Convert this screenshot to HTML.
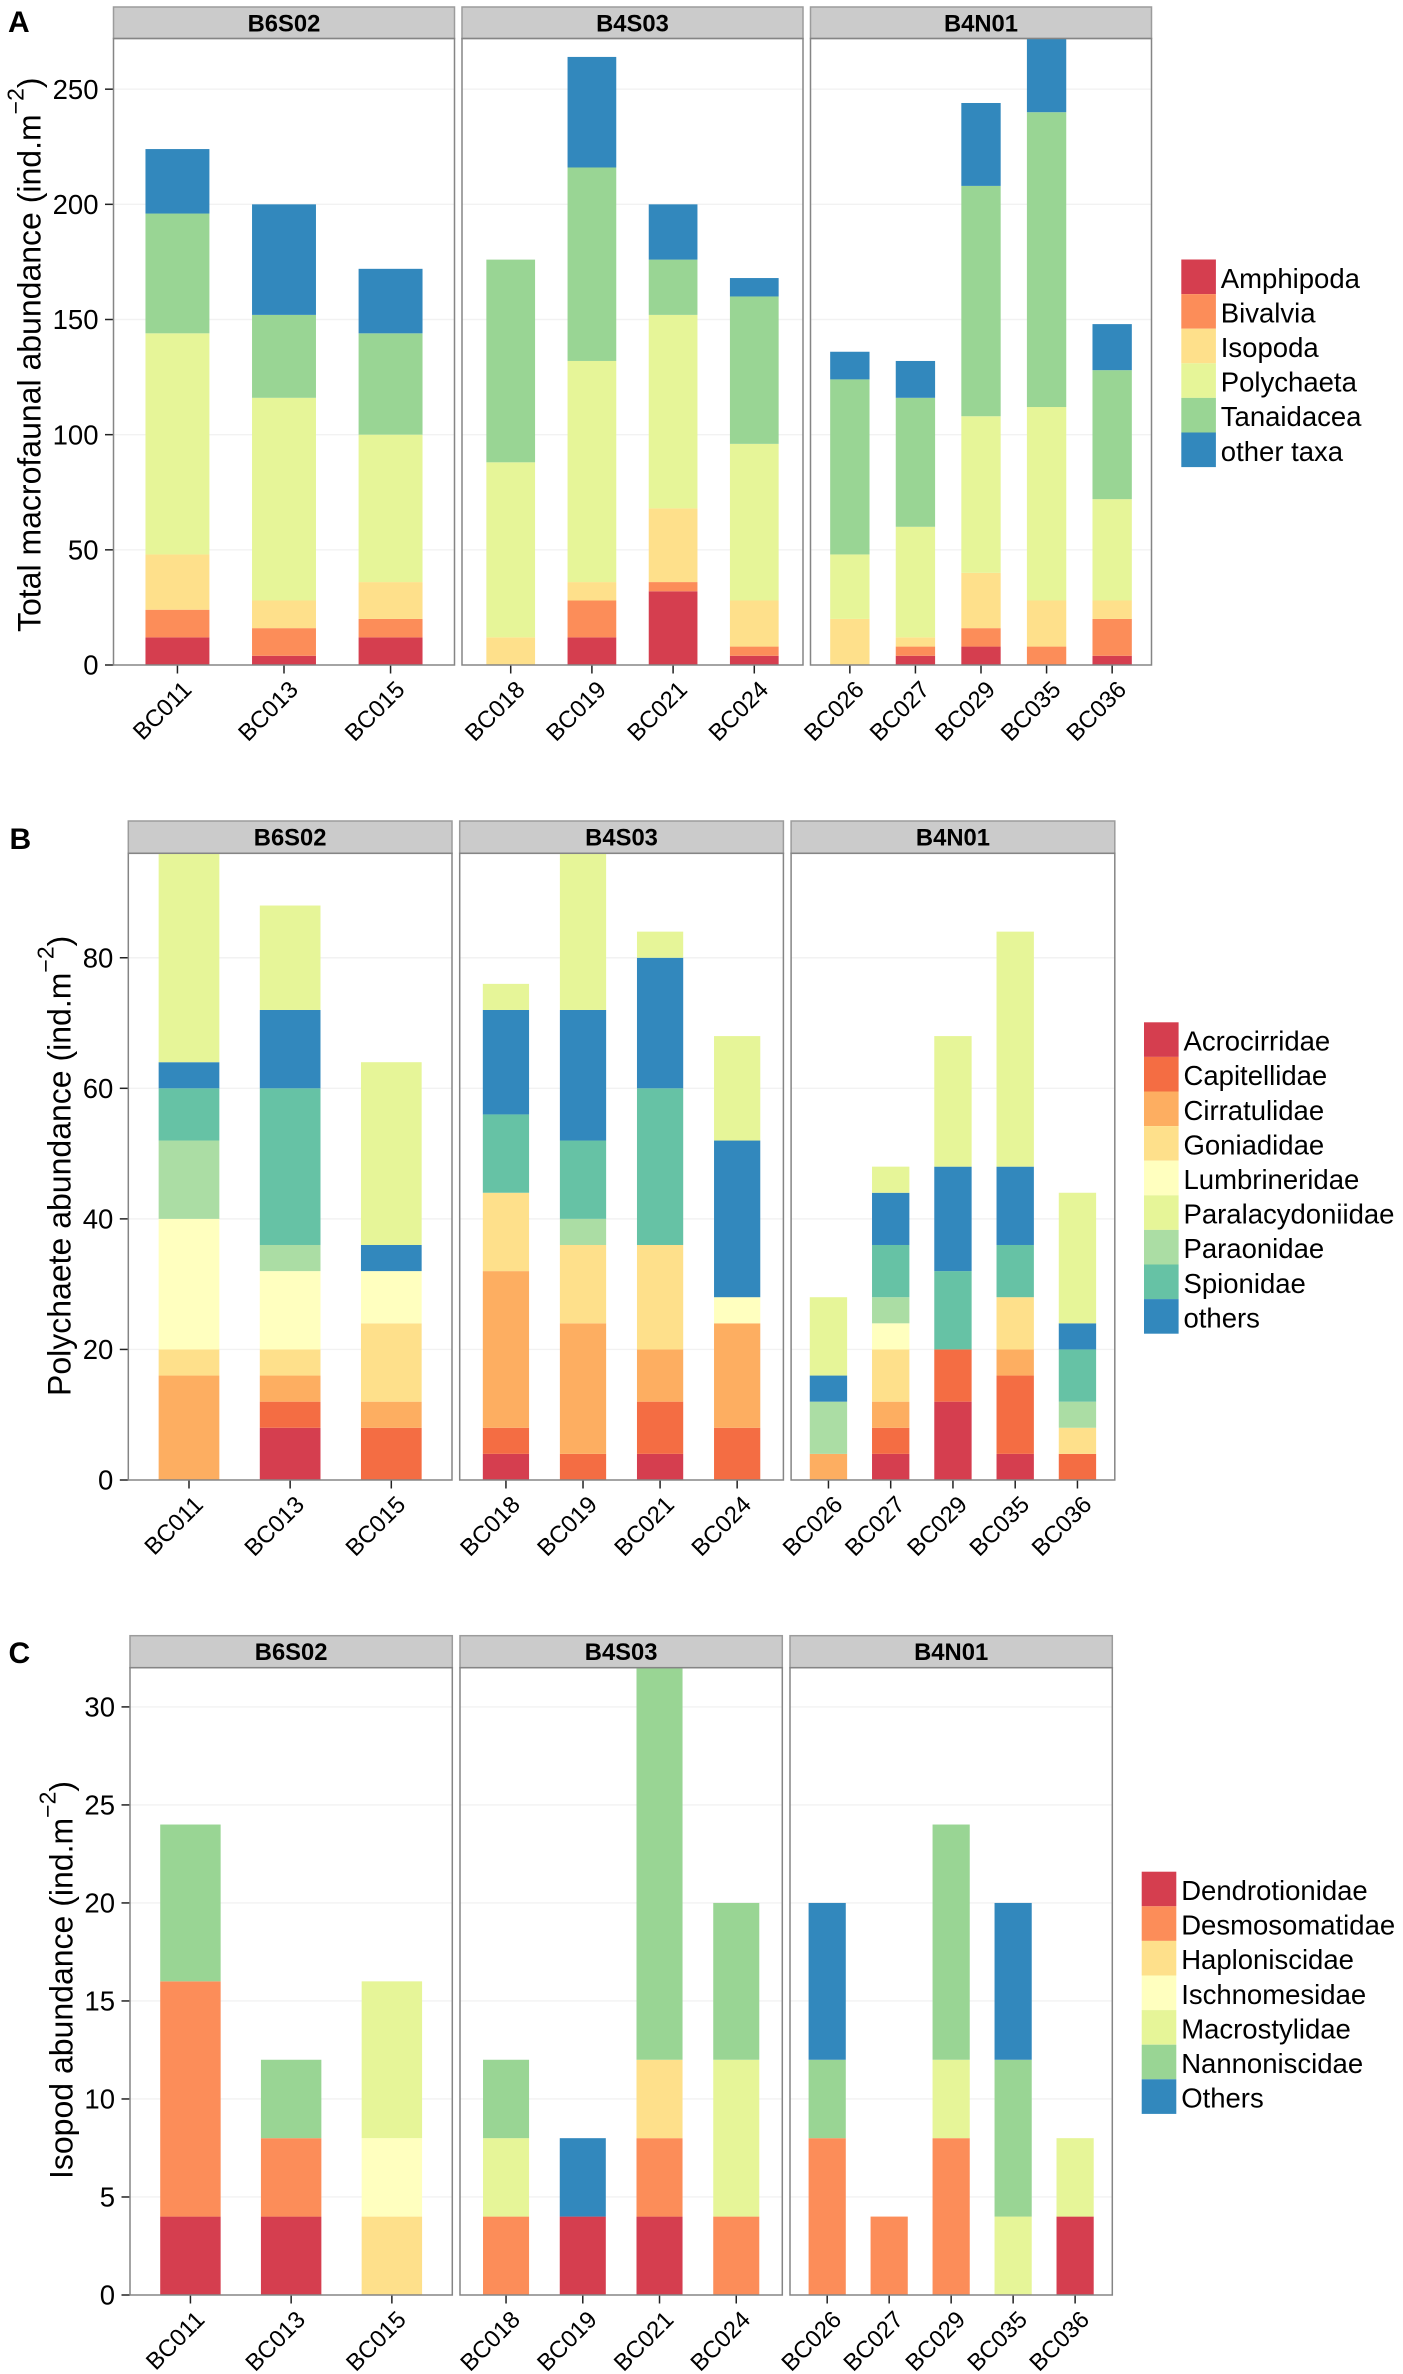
<!DOCTYPE html>
<html lang="en">
<head>
<meta charset="utf-8">
<title>Macrofaunal abundance stacked bar charts</title>
<style>
html,body{margin:0;padding:0;background:#fff;}
svg{display:block;font-family:"Liberation Sans",Arial,sans-serif;}
</style>
</head>
<body>
<svg id="figure" xmlns="http://www.w3.org/2000/svg" width="1403" height="2374" viewBox="0 0 1403 2374"></svg>
<script>
// ---- shared categories ----
const facetNames = ['B6S02', 'B4S03', 'B4N01'];
const facet1Stations = ['BC011', 'BC013', 'BC015'];
const facet2Stations = ['BC018', 'BC019', 'BC021', 'BC024'];
const facet3Stations = ['BC026', 'BC027', 'BC029', 'BC035', 'BC036'];

// ---- chart A: total macrofauna (12 stations, left to right) ----
const taxaA = ['Amphipoda', 'Bivalvia', 'Isopoda', 'Polychaeta', 'Tanaidacea', 'other taxa'];
const amphipoda  = [12, 4, 12, 0, 12, 32, 4, 0, 4, 8, 0, 4];
const bivalvia   = [12, 12, 8, 0, 16, 4, 4, 0, 4, 8, 8, 16];
const isopoda    = [24, 12, 16, 12, 8, 32, 20, 20, 4, 24, 20, 8];
const polychaeta = [96, 88, 64, 76, 96, 84, 68, 28, 48, 68, 84, 44];
const tanaidacea = [52, 36, 44, 88, 84, 24, 64, 76, 56, 100, 128, 56];
const otherTaxa  = [28, 48, 28, 0, 48, 24, 8, 12, 16, 36, 32, 20];
const ticksA = [0, 50, 100, 150, 200, 250];
const seriesA = [amphipoda, bivalvia, isopoda, polychaeta, tanaidacea, otherTaxa];
const stackA = [0, 1, 2, 3, 4, 5];

// ---- chart B: polychaete families ----
const taxaB = ['Acrocirridae', 'Capitellidae', 'Cirratulidae', 'Goniadidae', 'Lumbrineridae', 'Paralacydoniidae', 'Paraonidae', 'Spionidae', 'others'];
const acrocirridae     = [0, 8, 0, 4, 0, 4, 0, 0, 4, 12, 4, 0];
const capitellidae     = [0, 4, 8, 4, 4, 8, 8, 0, 4, 8, 12, 4];
const cirratulidae     = [16, 4, 4, 24, 20, 8, 16, 4, 4, 0, 4, 0];
const goniadidae       = [4, 4, 12, 12, 12, 16, 0, 0, 8, 0, 8, 4];
const lumbrineridae    = [20, 12, 8, 0, 0, 0, 4, 0, 4, 0, 0, 0];
const paralacydoniidae = [32, 16, 28, 4, 24, 4, 16, 12, 4, 20, 36, 20];
const paraonidae       = [12, 4, 0, 0, 4, 0, 0, 8, 4, 0, 0, 4];
const spionidae        = [8, 24, 0, 12, 12, 24, 0, 0, 8, 12, 8, 8];
const othersPoly       = [4, 12, 4, 16, 20, 20, 24, 4, 8, 16, 12, 4];
const ticksB = [0, 20, 40, 60, 80];
const seriesB = [acrocirridae, capitellidae, cirratulidae, goniadidae, lumbrineridae, paralacydoniidae, paraonidae, spionidae, othersPoly];
const stackB = [0, 1, 2, 3, 4, 6, 7, 8, 5];

// ---- chart C: isopod families ----
const taxaC = ['Dendrotionidae', 'Desmosomatidae', 'Haploniscidae', 'Ischnomesidae', 'Macrostylidae', 'Nannoniscidae', 'Others'];
const dendrotionidae = [4, 4, 0, 0, 4, 4, 0, 0, 0, 0, 0, 4];
const desmosomatidae = [12, 4, 0, 4, 0, 4, 4, 8, 4, 8, 0, 0];
const haploniscidae  = [0, 0, 4, 0, 0, 4, 0, 0, 0, 0, 0, 0];
const ischnomesidae  = [0, 0, 4, 0, 0, 0, 0, 0, 0, 0, 0, 0];
const macrostylidae  = [0, 0, 8, 4, 0, 0, 8, 0, 0, 4, 4, 4];
const nannoniscidae  = [8, 4, 0, 4, 0, 20, 8, 4, 0, 12, 8, 0];
const othersIso      = [0, 0, 0, 0, 4, 0, 0, 8, 0, 0, 8, 0];
const ticksC = [0, 5, 10, 15, 20, 25, 30];
const seriesC = [dendrotionidae, desmosomatidae, haploniscidae, ischnomesidae, macrostylidae, nannoniscidae, othersIso];
const stackC = [0, 1, 2, 3, 4, 5, 6];

// ---- palettes ----
const paletteA = ['#D53E4F', '#FC8D59', '#FEE08B', '#E6F598', '#99D594', '#3288BD'];
const paletteB = ['#D53E4F', '#F46D43', '#FDAE61', '#FEE08B', '#FFFFBF', '#E6F598', '#ABDDA4', '#66C2A5', '#3288BD'];
const paletteC = ['#D53E4F', '#FC8D59', '#FEE08B', '#FFFFBF', '#E6F598', '#99D594', '#3288BD'];

const NS = 'http://www.w3.org/2000/svg';
const figure = document.getElementById('figure');
const facetStations = [facet1Stations, facet2Stations, facet3Stations];

function make(parent, tag, attrs, text) {
  const el = document.createElementNS(NS, tag);
  for (const k in attrs) el.setAttribute(k, attrs[k]);
  if (text !== undefined) el.textContent = text;
  parent.appendChild(el);
  return el;
}
function slug(s) {
  return s.toLowerCase().replace(/[^a-z0-9]+/g, '-');
}

function drawChart(cfg) {
  const root = make(figure, 'g', {});
  
  

  const yScale = v => cfg.y0 - v * (cfg.y0 - cfg.yTop) / cfg.yMax;

  const letter = make(root, 'text', {x: cfg.letterX, y: cfg.letterY, 'font-size': 30, 'font-weight': 'bold', fill: '#000'}, cfg.id.toUpperCase());
  
  

  // y axis title, with superscript unit
  const title = make(root, 'text', {transform: 'translate(' + cfg.titleX + ',' + cfg.titleY + ') rotate(-90)', 'font-size': cfg.titleSize, fill: '#000'});
  
  
  title.appendChild(document.createTextNode(cfg.title + ' (ind.m'));
  make(title, 'tspan', {dy: -17, 'font-size': 23}, '\u22122');
  make(title, 'tspan', {dy: 17}, ')');

  // y tick marks and labels
  cfg.ticks.forEach(t => {
    const y = yScale(t);
    const tick = make(root, 'line', {x1: cfg.x0 - 8.5, x2: cfg.x0, y1: y, y2: y, stroke: '#222', 'stroke-width': 1.5});
    
    
    const label = make(root, 'text', {x: cfg.x0 - 15, y: y + 9.7, 'font-size': 27.5, 'text-anchor': 'end', fill: '#000'}, String(t));
    
    
  });

  let stationIndex = 0;
  facetNames.forEach((name, f) => {
    const stations = facetStations[f];
    const px = cfg.x0 + f * (cfg.panelW + cfg.gap);
    const step = cfg.panelW / (stations.length + 0.2);
    const xScale = i => px + (i + 0.6) * step;
    const barW = step * 0.6;

    const facet = make(root, 'g', {});
    
    

    const strip = make(facet, 'rect', {x: px, y: cfg.stripTop, width: cfg.panelW, height: cfg.yTop - cfg.stripTop, fill: '#CBCBCB', stroke: '#9C9C9C', 'stroke-width': 1.5});
    
    
    const stripText = make(facet, 'text', {x: px + cfg.panelW / 2, y: (cfg.stripTop + cfg.yTop) / 2 + 8.5, 'font-size': 23.8, 'font-weight': 'bold', 'text-anchor': 'middle', fill: '#000'}, name);
    
    

    cfg.ticks.forEach(t => {
      if (t === 0) return;
      const y = yScale(t);
      const grid = make(facet, 'line', {x1: px, x2: px + cfg.panelW, y1: y, y2: y, stroke: '#F2F2F2', 'stroke-width': 1.4});
      
      
    });

    stations.forEach((st, i) => {
      const bar = make(facet, 'g', {});
      
      
      let acc = 0;
      cfg.stack.forEach(s => {
        const v = cfg.series[s][stationIndex];
        if (!v) return;
        const yHi = yScale(acc + v), yLo = yScale(acc);
        const seg = make(bar, 'rect', {x: xScale(i) - barW / 2, y: yHi, width: barW, height: yLo - yHi, fill: cfg.palette[s]});
        
        
        acc += v;
      });
      const tick = make(facet, 'line', {x1: xScale(i), x2: xScale(i), y1: cfg.y0, y2: cfg.y0 + 8.5, stroke: '#222', 'stroke-width': 1.5});
      
      
      const lx = xScale(i) + 15.5, ly = cfg.y0 + 26;
      const label = make(facet, 'text', {transform: 'translate(' + lx + ',' + ly + ') rotate(-45)', 'font-size': 23.8, 'text-anchor': 'end', fill: '#000'}, st);
      
      
      stationIndex++;
    });

    const border = make(facet, 'rect', {x: px, y: cfg.yTop, width: cfg.panelW, height: cfg.y0 - cfg.yTop, fill: 'none', stroke: '#858585', 'stroke-width': 1.5});
    
    
  });

  // legend
  const legend = make(root, 'g', {});
  
  
  const size = 34.6;
  cfg.taxa.forEach((tax, i) => {
    const y = cfg.legendY + i * size;
    const sw = make(legend, 'rect', {x: cfg.legendX, y: y, width: size, height: size, fill: cfg.palette[i]});
    
    
    const lab = make(legend, 'text', {x: cfg.legendX + 39.5, y: y + size / 2 + 11, 'font-size': 27.5, fill: '#000'}, tax);
    
    
  });
}

drawChart({id: 'a', title: 'Total macrofaunal abundance', titleSize: 32, titleX: 40.5, titleY: 632,
  letterX: 8, letterY: 32, x0: 113.5, panelW: 341, gap: 7.5, stripTop: 7, yTop: 38.5, y0: 665, yMax: 272,
  ticks: ticksA, series: seriesA, stack: stackA, taxa: taxaA, palette: paletteA, legendX: 1181.3, legendY: 259.5});

drawChart({id: 'b', title: 'Polychaete abundance', titleSize: 32, titleX: 70.5, titleY: 1396,
  letterX: 9.5, letterY: 849, x0: 128.3, panelW: 323.7, gap: 7.7, stripTop: 821, yTop: 853.3, y0: 1480, yMax: 96,
  ticks: ticksB, series: seriesB, stack: stackB, taxa: taxaB, palette: paletteB, legendX: 1144, legendY: 1022.3});

drawChart({id: 'c', title: 'Isopod abundance', titleSize: 32, titleX: 72.5, titleY: 2179,
  letterX: 8.5, letterY: 1663, x0: 130, panelW: 322.3, gap: 7.7, stripTop: 1635.7, yTop: 1667.7, y0: 2295, yMax: 32,
  ticks: ticksC, series: seriesC, stack: stackC, taxa: taxaC, palette: paletteC, legendX: 1141.7, legendY: 1871.7});
</script>
</body>
</html>
